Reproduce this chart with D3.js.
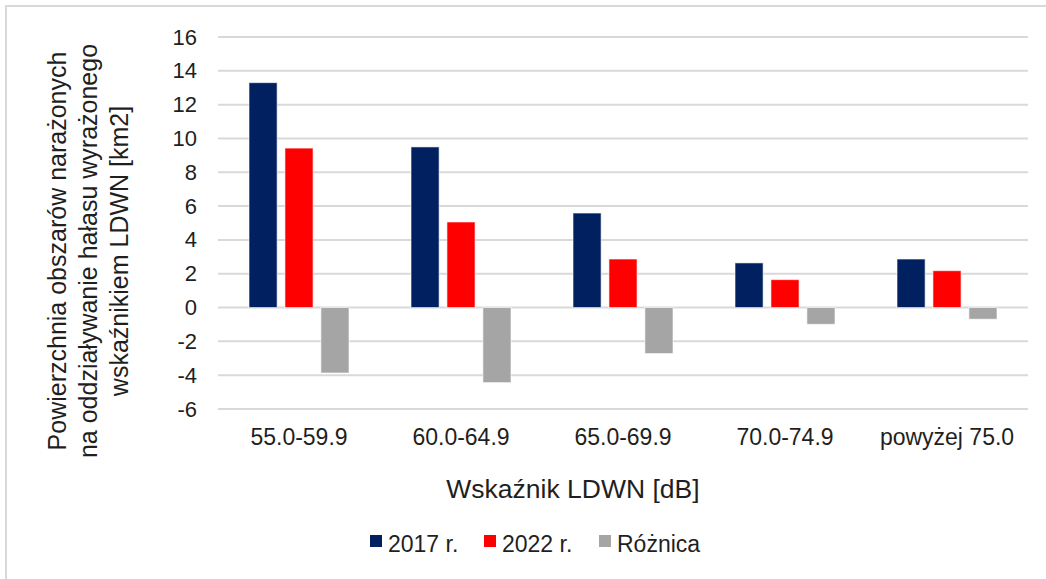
<!DOCTYPE html>
<meta charset="utf-8">
<style>
body { margin: 0; background: #fff; font-family: "Liberation Sans", Arial, sans-serif; }
.grid line { stroke: #d9d9d9; stroke-width: 2; }
text { fill: #1f1f1f; }
</style>
<script src="https://d3js.org/d3.v7.min.js"></script>
<body>
<div id="chart"></div>
<script>
// data
var categories = ["55.0-59.9", "60.0-64.9", "65.0-69.9", "70.0-74.9", "powyżej 75.0"];
var seriesNames = ["2017 r.", "2022 r.", "Różnica"];
var colors = ["#002060", "#ff0000", "#a5a5a5"];
var values2017 = [13.3, 9.5, 5.59, 2.64, 2.87];
var values2022 = [9.43, 5.06, 2.87, 1.65, 2.18];
var valuesDiff = [-3.87, -4.44, -2.72, -0.99, -0.69];
var yTicks = [-6, -4, -2, 0, 2, 4, 6, 8, 10, 12, 14, 16];
var yTitleLines = ["Powierzchnia obszarów narażonych",
                   "na oddziaływanie hałasu wyrażonego",
                   "wskaźnikiem LDWN [km2]"];

var W = 1046, H = 579;
var plot = {left: 218, right: 1028, top: 37, bottom: 409};

var svg = d3.select("#chart")
  .append("svg")
    .attr("width", W)
    .attr("height", H);

// frame (only top and left edges visible in the crop)
svg.append("rect")
  .attr("x", 6).attr("y", 6)
  .attr("width", W + 20).attr("height", H + 20)
  .attr("fill", "none")
  .attr("stroke", "#d9d9d9")
  .attr("stroke-width", 2);

// scales
var x0 = d3.scaleBand()
  .domain(categories)
  .range([plot.left, plot.right]);

var x1 = d3.scaleBand()
  .domain(seriesNames)
  .range([31, 131])
  .paddingInner(0.218);

var y = d3.scaleLinear()
  .domain([-6, 16])
  .range([plot.bottom, plot.top]);

// gridlines
svg.append("g")
  .attr("class", "grid")
  .selectAll("line")
  .data(yTicks)
  .enter()
  .append("line")
    .attr("x1", plot.left)
    .attr("x2", plot.right)
    .attr("y1", function(d) { return y(d); })
    .attr("y2", function(d) { return y(d); });

// y axis labels (plain hyphen for negatives, like the original)
var yAxis = svg.append("g")
  .attr("transform", "translate(" + plot.left + ",0)")
  .call(d3.axisLeft(y).tickValues(yTicks).tickSize(0).tickPadding(21)
    .tickFormat(function(d) { return String(d); }));
yAxis.select(".domain").remove();
yAxis.selectAll("text")
  .attr("fill", "#1f1f1f")
  .style("font-size", "22px")
  .style("font-family", "'Liberation Sans', Arial, sans-serif");

// x axis labels
var xAxis = svg.append("g")
  .attr("transform", "translate(0," + plot.bottom + ")")
  .call(d3.axisBottom(x0).tickSize(0).tickPadding(20));
xAxis.select(".domain").remove();
xAxis.selectAll("text")
  .attr("fill", "#1f1f1f")
  .style("font-size", "23px")
  .style("font-family", "'Liberation Sans', Arial, sans-serif");

// bars
var table = categories.map(function(c, i) {
  return {cat: c, vals: [values2017[i], values2022[i], valuesDiff[i]]};
});

var groups = svg.selectAll(".grp")
  .data(table)
  .enter()
  .append("g")
    .attr("class", "grp")
    .attr("transform", function(d) { return "translate(" + x0(d.cat) + ",0)"; });

groups.selectAll("rect")
  .data(function(d) { return d.vals.map(function(v, j) { return {s: seriesNames[j], v: v, c: colors[j]}; }); })
  .enter()
  .append("rect")
    .attr("x", function(d) { return x1(d.s); })
    .attr("width", x1.bandwidth())
    .attr("y", function(d) { return y(Math.max(0, d.v)); })
    .attr("height", function(d) { return Math.abs(y(d.v) - y(0)); })
    .attr("fill", function(d) { return d.c; })
    .attr("stroke", "#ffffff")
    .attr("stroke-opacity", 0.6)
    .attr("stroke-width", 1);

// y axis title
var yTitle = svg.append("text")
  .attr("transform", "translate(66,251) rotate(-90)")
  .attr("text-anchor", "middle")
  .style("font-size", "25px");
yTitle.selectAll("tspan")
  .data(yTitleLines)
  .enter()
  .append("tspan")
    .attr("x", 0)
    .attr("dy", function(d, i) { return i == 0 ? 0 : 31; })
    .text(function(d) { return d; });

// x axis title
svg.append("text")
  .attr("x", 573)
  .attr("y", 498)
  .attr("text-anchor", "middle")
  .style("font-size", "26.5px")
  .text("Wskaźnik LDWN [dB]");

// legend
var legendX = [370, 484, 599];
var legend = svg.selectAll(".leg")
  .data(seriesNames)
  .enter()
  .append("g")
    .attr("class", "leg")
    .attr("transform", function(d, i) { return "translate(" + legendX[i] + ",535)"; });
legend.append("rect")
  .attr("width", 12)
  .attr("height", 12)
  .attr("fill", function(d, i) { return colors[i]; });
legend.append("text")
  .attr("x", 18)
  .attr("y", 17)
  .style("font-size", "23px")
  .text(function(d) { return d; });
</script>
</body>
